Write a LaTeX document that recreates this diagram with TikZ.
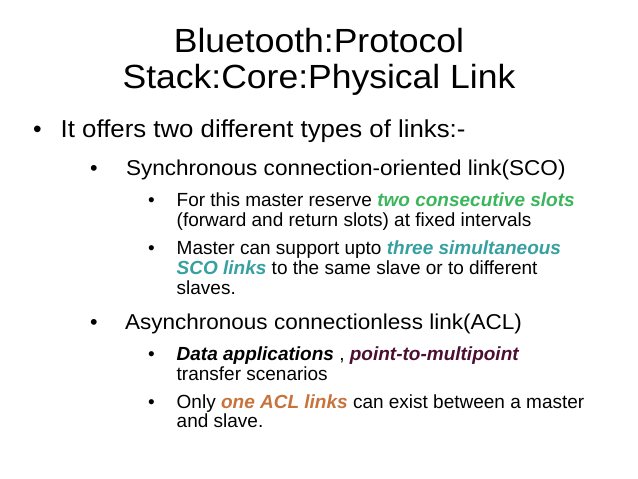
\documentclass[tikz,border=0pt]{standalone}
\usepackage{fontspec}
\setmainfont{Liberation Sans}
\newfontfamily\fonttitle[FakeStretch=1.06]{Liberation Sans}
\newfontfamily\fontone[FakeStretch=1.053]{Liberation Sans}
\newfontfamily\fonttwo[FakeStretch=1.048]{Liberation Sans}
\definecolor{hlgreen}{RGB}{60,182,92}
\definecolor{hlteal}{RGB}{55,160,160}
\definecolor{hlpurple}{RGB}{75,15,50}
\definecolor{hlorange}{RGB}{200,115,60}
\newcommand{\hl}[2]{\textcolor{#1}{\bfseries\itshape #2}}
\tikzset{
  txt/.style={anchor=base west,inner sep=0pt,outer sep=0pt},
  ttl/.style={anchor=base,inner sep=0pt,font=\fonttitle\fontsize{33.5}{36}\selectfont},
  lone/.style={txt,font=\fontone\fontsize{24.5}{28}\selectfont},
  ltwo/.style={txt,font=\fonttwo\fontsize{21.5}{25}\selectfont},
  lthree/.style={txt,font=\fontsize{19}{22}\selectfont},
  bone/.style={anchor=base,inner sep=0pt,font=\fontsize{24.5}{28}\selectfont},
  btwo/.style={anchor=base,inner sep=0pt,font=\fontsize{21.5}{25}\selectfont},
  bthree/.style={anchor=base,inner sep=0pt,font=\fontsize{19}{22}\selectfont},
}
\begin{document}
\begin{tikzpicture}[x=1pt,y=-1pt]
\useasboundingbox[fill=white] (0,0) rectangle (638,479);
\node[ttl] (t1) at (319,52.5) {Bluetooth:Protocol};
\node[ttl] (t2) at (319,88.5) {Stack:Core:Physical Link};
% level 1
\node[bone] (b1) at (37.5,137) {•};
\node[lone] (l1) at (60.7,137) {It offers two different types of links:-};
% level 2 SCO
\node[btwo] (b2) at (94,175) {•};
\node[ltwo] (l2) at (126,175) {Synchronous connection-oriented link(SCO)};
% level 3
\node[bthree] (b3) at (151.5,206.7) {•};
\node[lthree] (l3a) at (176.7,206.7) {For this master reserve \hl{hlgreen}{two consecutive slots}};
\node[lthree] (l3b) at (176.7,226.5) {(forward and return slots) at fixed intervals};
\node[bthree] (b4) at (151.5,254) {•};
\node[lthree] (l4a) at (176.7,254) {Master can support upto \hl{hlteal}{three simultaneous}};
\node[lthree] (l4b) at (176.7,274) {\hl{hlteal}{SCO links} to the same slave or to different};
\node[lthree] (l4c) at (176.7,294.5) {slaves.};
% level 2 ACL
\node[btwo] (b5) at (94,329) {•};
\node[ltwo] (l5) at (125,329) {Asynchronous connectionless link(ACL)};
\node[bthree] (b6) at (151.5,360) {•};
\node[lthree] (l6a) at (176.7,360) {\hl{black}{Data applications} , \hl{hlpurple}{point-to-multipoint}};
\node[lthree] (l6b) at (176.7,380) {transfer scenarios};
\node[bthree] (b7) at (151.5,408) {•};
\node[lthree] (l7a) at (176.7,408) {Only \hl{hlorange}{one ACL links} can exist between a master};
\node[lthree] (l7b) at (176.7,427.5) {and slave.};
\end{tikzpicture}
\end{document}
